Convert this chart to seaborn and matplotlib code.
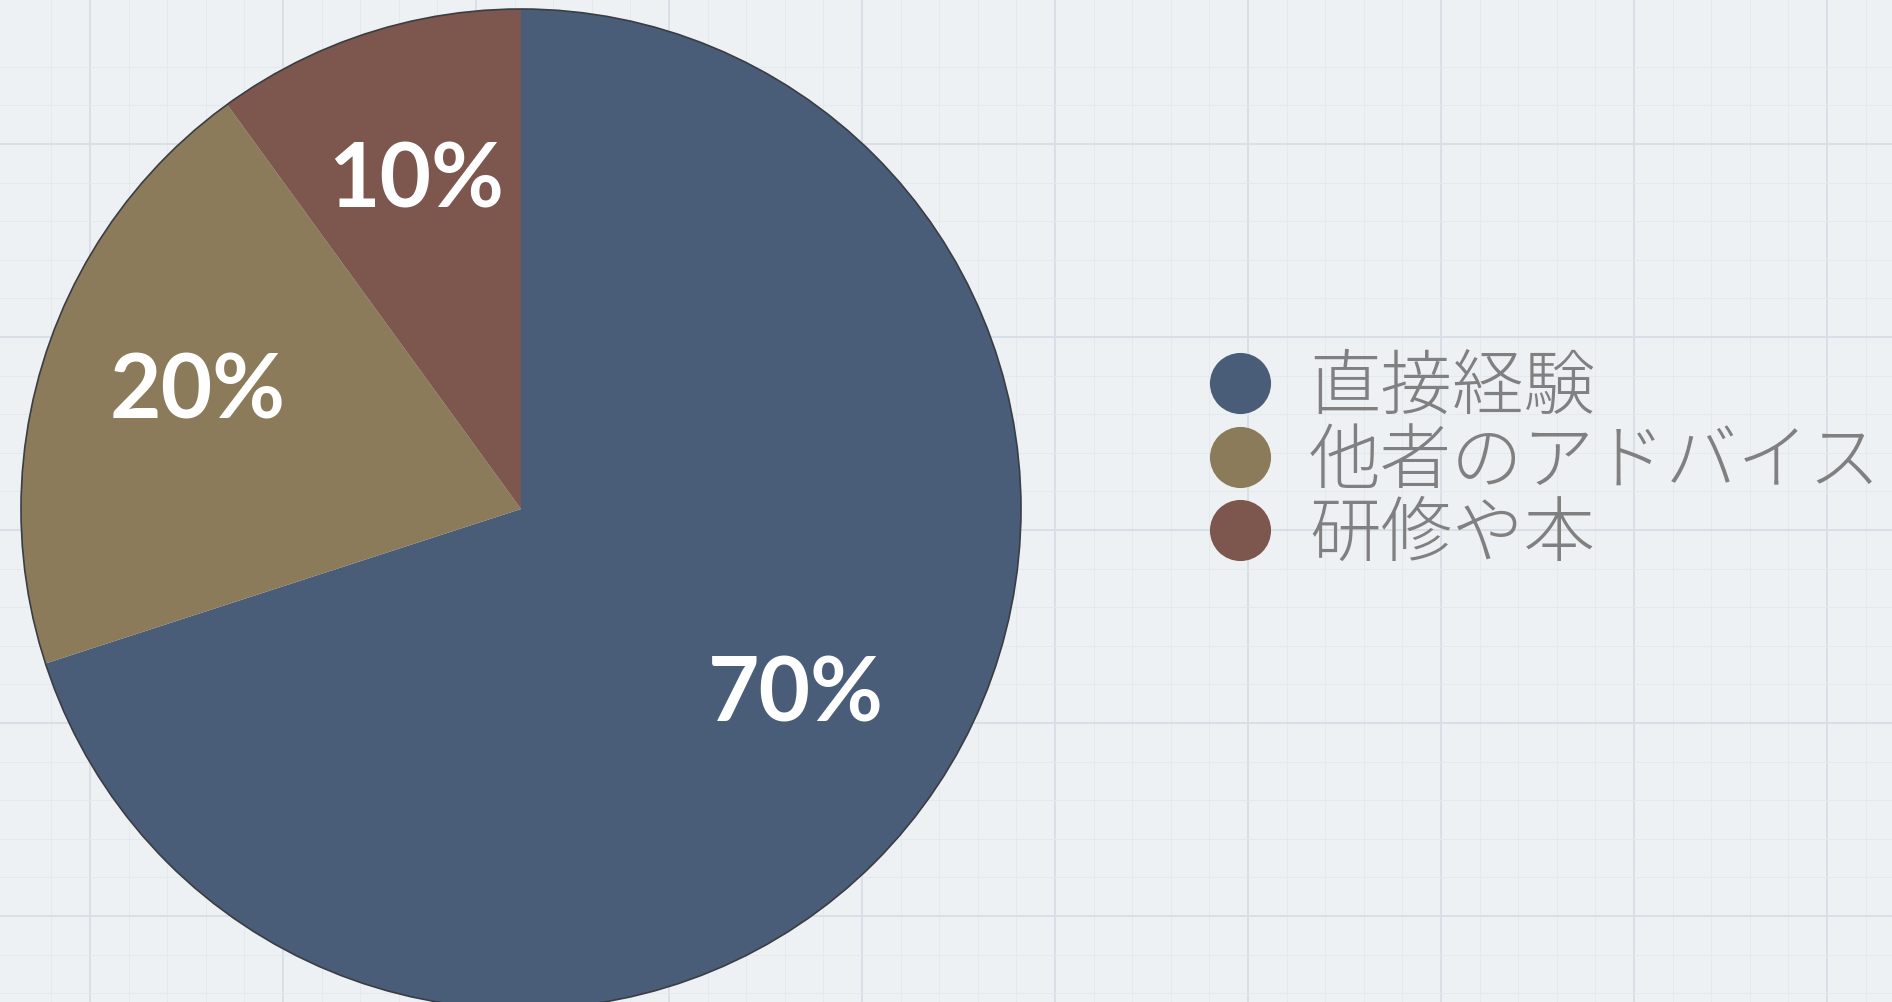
import numpy as np
import matplotlib
matplotlib.use("Agg")
import matplotlib.pyplot as plt
import matplotlib.transforms as mtransforms
from matplotlib.patches import Circle
from matplotlib.lines import Line2D
import seaborn as sns

labels = ["直接経験", "他者のアドバイス", "研修や本"]
shares = [70, 20, 10]
colors = ["#4a5d78", "#8c7b5a", "#7d564d"]

sns.set_theme(style="white")
plt.rcParams['font.family'] = ['Noto Sans CJK JP', 'DejaVu Sans']

W, H = 1892, 1003
fig = plt.figure(figsize=(W / 100, H / 100), dpi=100)
fig.patch.set_facecolor("#eef1f4")

# graph-paper background
bg = fig.add_axes([0, 0, 1, 1], zorder=0)
bg.set_facecolor("#eef1f4")
bg.set_xticks(np.arange(90, W, 193))
bg.set_yticks(np.arange(145, H, 193))
bg.set_xticks(np.arange(90 - 193 * 0.4, W, 193 / 5)[1:], minor=True)
bg.set_yticks(np.arange(145 - 193 * 0.6, H, 193 / 5)[1:], minor=True)
bg.set_xlim(0, W)
bg.set_ylim(H, 0)
bg.grid(True, which="major", color="#d6dee6", linewidth=1.3)
bg.grid(True, which="minor", color="#e4e9ee", linewidth=0.7)
bg.tick_params(which="both", length=0, labelbottom=False, labelleft=False)
for s in bg.spines.values():
    s.set_visible(False)

# pie: centre (521, 510), radius 500 px
cx, cy, r = 521, 510, 500
ax = fig.add_axes([(cx - r) / W, (H - cy - r) / H, 2 * r / W, 2 * r / H], zorder=1)
wedges, texts, autotexts = ax.pie(
    shares, colors=colors, startangle=90, counterclock=False,
    autopct="%d%%", pctdistance=0.68,
    wedgeprops=dict(linewidth=0),
    textprops=dict(color="white", fontsize=64, fontweight="bold", family="Lato"),
)
# small vertical nudges for the percentage labels
for t, dy in zip(autotexts, [14, 12, 5]):
    t.set_va("center")
    t.set_transform(mtransforms.offset_copy(ax.transData, fig=fig, x=0, y=dy, units="dots"))
ax.add_patch(Circle((0, 0), 1.0, fill=False, edgecolor="#3a3d44", linewidth=1.2,
                    zorder=5, clip_on=False))
ax.set_xlim(-1, 1)
ax.set_ylim(-1, 1)
ax.set_aspect("equal")
ax.axis("off")

handles = [Line2D([], [], marker="o", linestyle="none", markersize=44,
                  markerfacecolor=c, markeredgewidth=0) for c in colors]
leg = fig.legend(handles, labels, loc="center left", bbox_to_anchor=(1168 / W, 1 - 463 / H),
                 frameon=False, fontsize=51.5, labelspacing=0.0, handletextpad=0.47,
                 handlelength=1.0, borderpad=0)
for t in leg.get_texts():
    t.set_color("#808080")
    t.set_fontweight("light")

fig.savefig("out.png", dpi=100, facecolor=fig.get_facecolor())
